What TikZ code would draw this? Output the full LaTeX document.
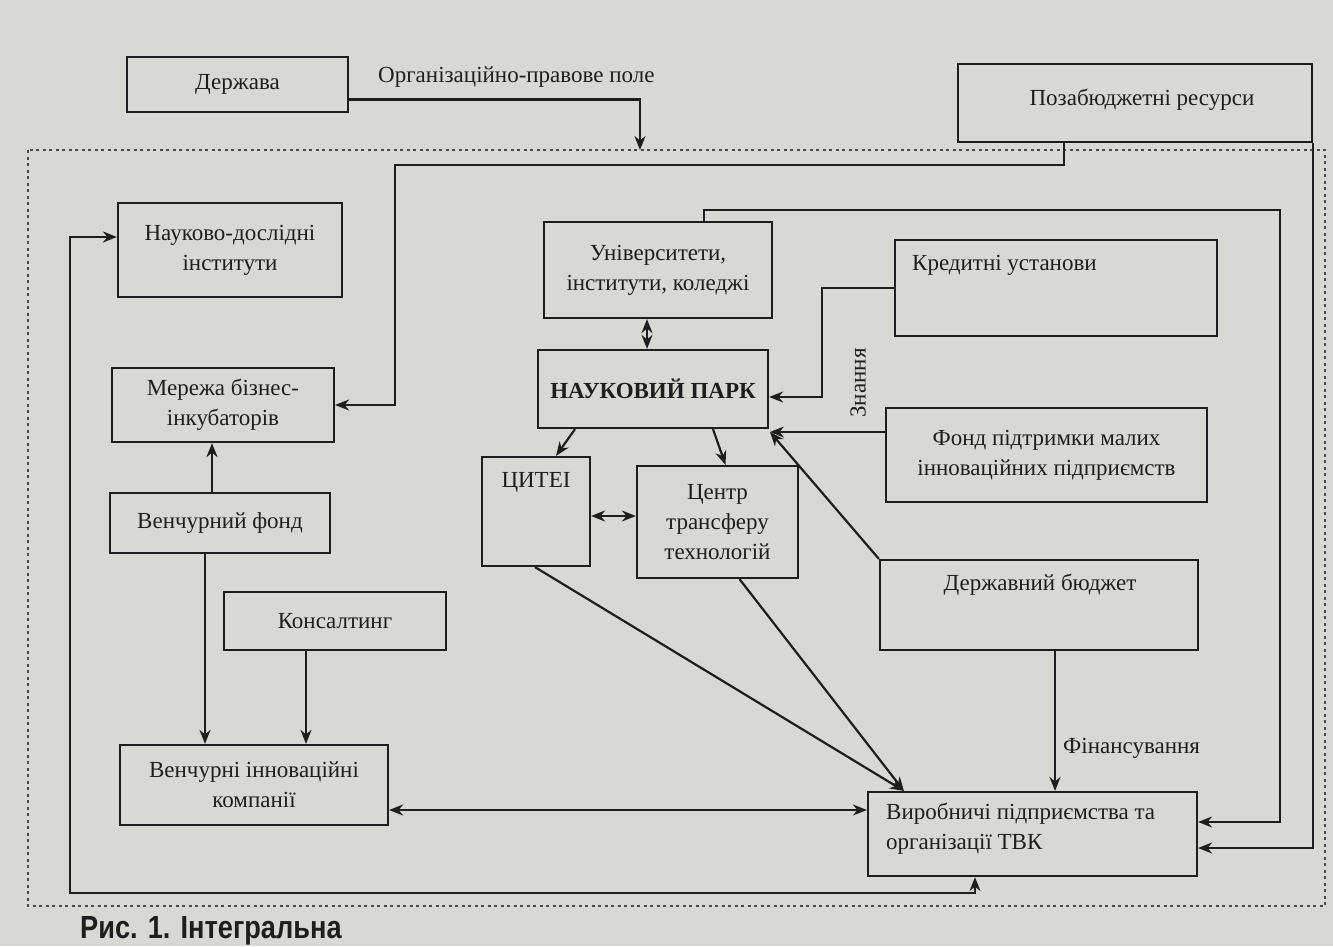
\documentclass[tikz,border=0pt]{standalone}
\usepackage{fontspec}
\setmainfont{Liberation Serif}
\newfontfamily\capfont[FakeStretch=0.85]{Liberation Sans}
\usetikzlibrary{arrows.meta,calc}
\definecolor{paper}{RGB}{216,216,213}
\definecolor{ink}{RGB}{30,30,30}
\begin{document}
\begin{tikzpicture}[x=1pt,y=-1pt,
  box/.style={draw=ink, line width=2.2pt, inner sep=0pt},
  txt/.style={font=\fontsize{23}{30}\selectfont, text=ink, align=center, inner sep=0pt},
  conn/.style={draw=ink, line width=2.2pt},
  arr/.style={conn, -{Stealth[length=14pt,width=11pt]}},
  darr/.style={conn, {Stealth[length=14pt,width=11pt]}-{Stealth[length=14pt,width=11pt]}},
  border/.style={draw=ink!80, line width=2pt, dash pattern=on 3pt off 3.5pt}]
\fill[paper] (0,0) rectangle (1333,946);
\useasboundingbox (0,0) rectangle (1333,946);

% dotted boundary
\draw[border] (28,150) rectangle (1325,906);

% boxes
\node[box, minimum width=221pt, minimum height=55pt, txt] (derz) at (237.5,84.5) {Держава};
\node[box, minimum width=354pt, minimum height=78pt] (poz) at (1135,103) {};
\node[txt] (pozt) at (1142,100) {Позабюджетні ресурси};
\node[box, minimum width=224pt, minimum height=94pt, txt] (ndi) at (230,250) {Науково-дослідні\\інститути};
\node[box, minimum width=222pt, minimum height=74pt, txt] (mer) at (223,405) {Мережа бізнес-\\інкубаторів};
\node[box, minimum width=220pt, minimum height=60pt, txt] (vf) at (220,523) {Венчурний фонд};
\node[box, minimum width=222pt, minimum height=58pt, txt] (kons) at (335,621) {Консалтинг};
\node[box, minimum width=268pt, minimum height=80pt, txt] (vik) at (254,785) {Венчурні інноваційні\\компанії};
\node[box, minimum width=228pt, minimum height=96pt, txt] (univ) at (658,270) {Університети,\\інститути, коледжі};
\node[box, minimum width=230pt, minimum height=78pt, txt, font=\bfseries\fontsize{23}{30}\selectfont] (park) at (653,389) {НАУКОВИЙ ПАРК};
\node[box, minimum width=108pt, minimum height=109pt] (cyt) at (536,511.5) {};
\node[txt] (cytt) at (536,482) {ЦИТЕІ};
\node[box, minimum width=161pt, minimum height=112pt, txt] (ctt) at (717.5,522) {Центр\\трансферу\\технологій};
\node[box, minimum width=322pt, minimum height=96pt] (kred) at (1056,288) {};
\node[txt, anchor=west] (kredt) at (912,265) {Кредитні установи};
\node[box, minimum width=321pt, minimum height=94pt, txt] (fond) at (1046.5,455) {Фонд підтримки малих\\інноваційних підприємств};
\node[box, minimum width=318pt, minimum height=90pt] (db) at (1039,605) {};
\node[txt] (dbt) at (1040,585) {Державний бюджет};
\node[box, minimum width=329pt, minimum height=84pt] (vyr) at (1032.5,834) {};
\node[txt, anchor=north west, align=left] (vyrt) at (886,803) {Виробничі підприємства та\\організації ТВК};

% labels
\node[txt, anchor=west] (org) at (378,77) {Організаційно-правове поле};
\node[txt, rotate=90] (zn) at (858,383) {Знання};
\node[txt, anchor=west] (fin) at (1063,748) {Фінансування};

% coordinates
\coordinate (b1) at (640,150);
\coordinate (pc) at (770,432);
\coordinate (vt) at ($(vyr.north west)+(37,0)$);

% connectors
\draw[arr] ([yshift=-15pt]derz.east) -| (b1);
\draw[arr] ($(poz.south west)+(107,0)$) |- (395,165) |- (mer.east);
\draw[arr] ($(univ.north west)+(161,0)$) |- (1280,210) |- ($(vyr.east)+(0,-12)$);
\draw[arr] (poz.south east) |- ($(vyr.east)+(0,14)$);
\draw[darr] ($(univ.south)+(-11,0)$) -- ($(park.north)+(-6,0)$);
\draw[arr] (kred.west) -- (822,288) |- ($(park.east)+(0,8)$);
\draw[arr] (fond.west |- pc) -- (pc);
\draw[arr] (db.north west) -- (pc);
\draw[arr] ($(park.south)+(-78,0)$) -- ($(cyt.north)+(20,0)$);
\draw[arr] ($(park.south)+(60,0)$) -- ($(ctt.north)+(8,0)$);
\draw[darr] ($(cyt.east)+(0,4.5)$) -- ($(ctt.west)+(0,-6)$);
\draw[arr] ($(cyt.south)+(-1,0)$) -- (vt);
\draw[arr] ($(ctt.south)+(22,0)$) -- (vt);
\draw[arr] ($(db.south)+(16,0)$) -- ($(vyr.north)+(22.5,0)$);
\draw[darr] ($(vik.east)+(0,25)$) -- ($(vyr.west)+(0,-24)$);
\draw[arr] ($(vf.north)+(-8,0)$) -- ($(mer.south)+(-11,0)$);
\draw[arr] ($(vf.south)+(-15,0)$) -- ($(vik.north)+(-49,0)$);
\draw[arr] ($(kons.south)+(-29,0)$) -- ($(vik.north)+(52,0)$);
\draw[darr] ($(ndi.west)+(0,-13)$) -| (70,893) -| ($(vyr.south)+(-57.5,0)$);

% caption
\node[font=\capfont\bfseries\fontsize{32}{32}\selectfont, text=ink, anchor=base west, inner sep=0pt] (cap) at (80,938) {Рис. 1. Інтегральна};
\end{tikzpicture}
\end{document}
